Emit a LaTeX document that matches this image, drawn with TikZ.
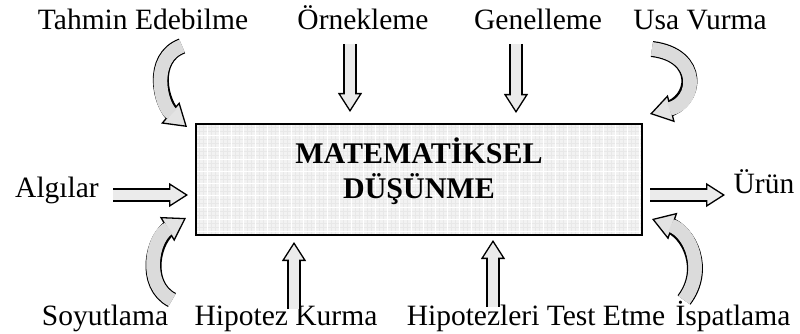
\documentclass[tikz,border=0pt]{standalone}
\usepackage{fontspec}
\setmainfont{Liberation Serif}
\usetikzlibrary{arrows.meta}

\tikzset{
  lbl/.style={font=\fontsize{29.5}{32}\selectfont, inner sep=0pt, anchor=base},
  ttl/.style={font=\fontsize{30}{34}\selectfont\bfseries, inner sep=0pt, anchor=base},
  % block arrow, three passes: black outline, tip, light body
  bkout/.style={line width=13.4pt, black, shorten >=14pt},
  bktip/.style={line width=10.8pt, gray!16,
    -{Triangle[width=24pt,length=19pt,color=black,fill=gray!16,line width=1.3pt]}},
  bkbody/.style={line width=10.8pt, gray!16, shorten >=17pt},
  % wider version for the curved arrows
  cvout/.style={line width=16pt, black, shorten >=16pt},
  cvtip/.style={line width=13.4pt, gray!28,
    -{Triangle[width=28pt,length=22pt,color=black,fill=gray!22,line width=1.3pt]}},
  cvbody/.style={line width=13.4pt, gray!28, shorten >=20pt},
}
\newcommand\blockarr[1]{%
  \draw[bkout] #1;
  \draw[bktip] #1;
  \draw[bkbody] #1;
}
\newcommand\curvearr[1]{%
  \draw[cvout] #1;
  \draw[cvtip] #1;
  \draw[cvbody] #1;
}

\begin{document}
\begin{tikzpicture}[x=1pt, y=-1pt]
\useasboundingbox (0,0) rectangle (800,334);

% central box with a light grid texture
\begin{scope}
  \clip (196,124) rectangle (642,235);
  \fill[gray!10] (196,124) rectangle (642,235);
  \foreach \x in {199,203,...,642} \draw[gray!18, line width=0.3pt] (\x,124) -- (\x,235);
  \foreach \y in {127,131,...,235} \draw[gray!18, line width=0.3pt] (196,\y) -- (642,\y);
  \foreach \x in {207,219,...,642} \draw[white, line width=0.9pt] (\x,124) -- (\x,235);
  \foreach \y in {135,147,...,235} \draw[white, line width=0.9pt] (196,\y) -- (642,\y);
\end{scope}
\node[draw, line width=2.6pt, minimum width=446pt, minimum height=111pt, inner sep=0pt]
  (box) at (419,179.5) {};
\node[ttl] (t1) at (419,164) {MATEMATİKSEL};
\node[ttl] (t2) at (419,198) {DÜŞÜNME};

% labels
\node[lbl] (tah) at (143,30) {Tahmin Edebilme};
\node[lbl] (orn) at (363,30) {Örnekleme};
\node[lbl] (gen) at (538,30) {Genelleme};
\node[lbl] (usa) at (700,30) {Usa Vurma};
\node[lbl] (alg) at (57,197) {Algılar};
\node[lbl] (uru) at (764,193) {Ürün};
\node[lbl] (soy) at (105,325) {Soyutlama};
\node[lbl] (hip) at (286,325) {Hipotez Kurma};
\node[lbl] (hte) at (536,325) {Hipotezleri Test Etme};
\node[lbl] (isp) at (733,325) {İspatlama};

% arrow end points
\coordinate (ornA) at (350,44);  \coordinate (ornB) at (350,112);
\coordinate (genA) at (516,44);  \coordinate (genB) at (516,113);
\coordinate (hipA) at (294,309); \coordinate (hipB) at (294,242);
\coordinate (hteA) at (493,307); \coordinate (hteB) at (493,240);
\coordinate (algA) at (113,195); \coordinate (algB) at (188,195);
\coordinate (uruA) at (650,195); \coordinate (uruB) at (725,195);
\coordinate (tahA) at (182,46);  \coordinate (tahB) at (187,127);
\coordinate (usaA) at (652,49);  \coordinate (usaB) at (650,114);
\coordinate (soyA) at (172,300); \coordinate (soyB) at (186,218);
\coordinate (ispA) at (684,300); \coordinate (ispB) at (652,219);

% straight arrows
\blockarr{(ornA) -- (ornB)}
\blockarr{(genA) -- (genB)}
\blockarr{(hipA) -- (hipB)}
\blockarr{(hteA) -- (hteB)}
\blockarr{(algA) -- (algB)}
\blockarr{(uruA) -- (uruB)}

% curved arrows
\curvearr{(tahA) .. controls (150,58) and (160,104) .. (tahB)}
\curvearr{(usaA) .. controls (702,55) and (697,102) .. (usaB)}
\curvearr{(soyA) .. controls (143,285) and (152,238) .. (soyB)}
\curvearr{(ispA) .. controls (707,270) and (690,232) .. (ispB)}
\end{tikzpicture}
\end{document}
